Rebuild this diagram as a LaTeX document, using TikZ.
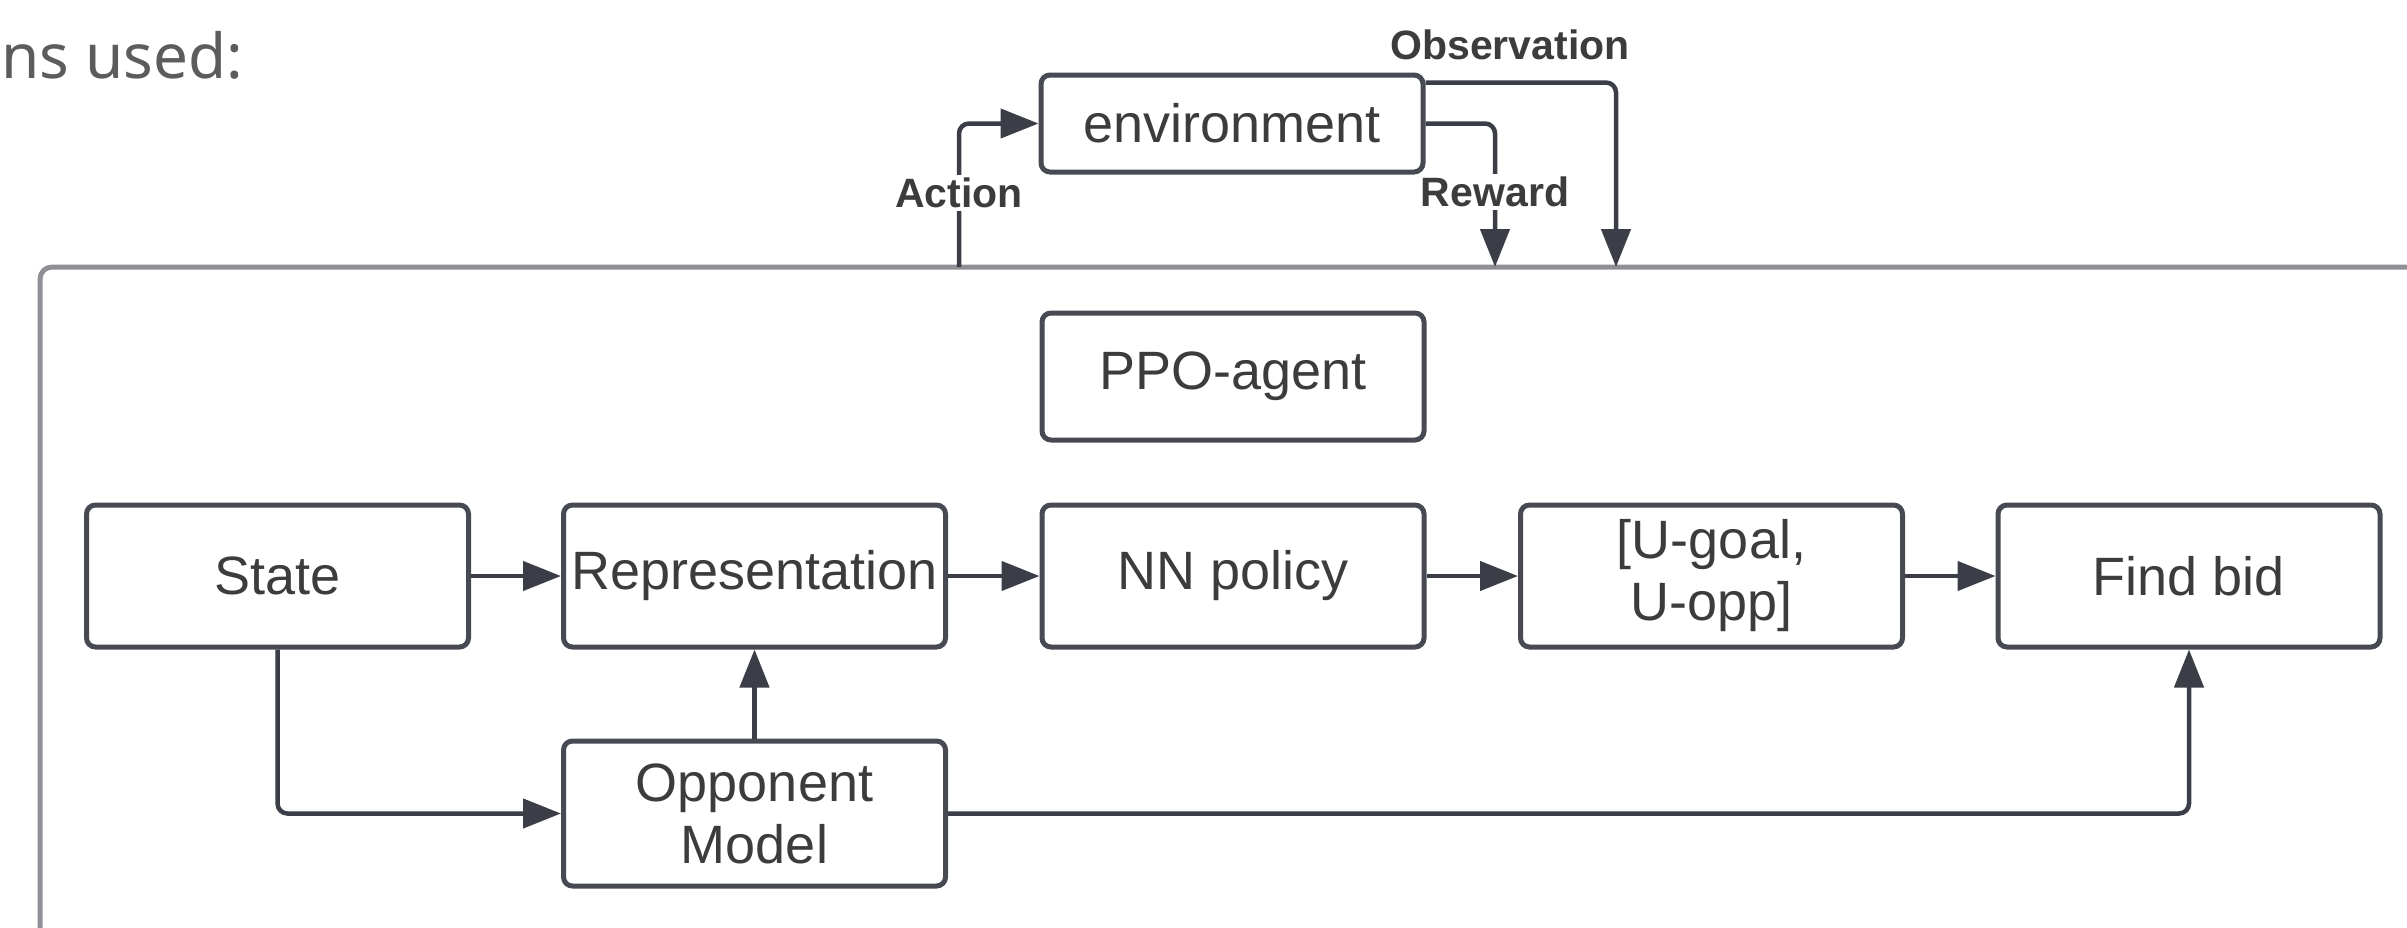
\documentclass[tikz,border=0pt]{standalone}
\usepackage{fontspec}
\setmainfont{Liberation Sans}
\newfontfamily\notofont{Noto Sans}
\usetikzlibrary{arrows.meta}
\definecolor{boxline}{HTML}{474A52}
\definecolor{linec}{HTML}{3B3E46}
\definecolor{outerc}{HTML}{8E9096}
\definecolor{txt}{HTML}{3C3C3C}
\definecolor{graytxt}{HTML}{5C5C5C}
\begin{document}
\begin{tikzpicture}[x=1pt,y=-1pt,
 blk/.style={draw=boxline, line width=5pt, rounded corners=9pt, minimum width=382pt, minimum height=142pt, inner sep=0pt, align=center, text=txt, font=\fontsize{54}{62}\selectfont},
 conn/.style={draw=linec, line width=4.5pt, -{Triangle[length=38pt,width=29pt]}, rounded corners=10pt},
 lbl/.style={font=\bfseries\fontsize{41}{48}\selectfont, text=txt, fill=white, inner sep=3pt}]
\useasboundingbox (0,0) rectangle (2407,927);
\begin{scope}
\clip (0,0) rectangle (2407,927);
\draw[outerc, line width=5pt, rounded corners=12pt] (40,267) rectangle (2480,1000);
\end{scope}
\node[anchor=base west, text=graytxt, font=\notofont\fontsize{62}{70}\selectfont, inner sep=0pt] (cap) at (1,78) {ns used:};
% nodes
\node[blk, minimum height=97pt] (env) at (1232,123.5) {environment};
\node[blk, minimum height=127pt] (ppo) at (1233,376.5) {PPO-agent};
\node[blk] (state) at (277.5,576) {State};
\node[blk] (rep) at (754.5,576) {Representation};
\node[blk] (nn) at (1233,576) {NN policy};
\node[blk] (ug) at (1711.5,576) {[U-goal,\\U-opp]};
\node[blk] (fb) at (2189,576) {Find bid};
\node[blk, minimum height=145pt] (opp) at (754.5,813.5) {Opponent\\Model};
% free ends on the agent frame
\coordinate (actS) at (959,267);
\coordinate (rewE) at (1495,267);
\coordinate (obsE) at (1616,267);
% environment loop
\draw[conn] (actS) |- (env.west);
\node[lbl] (actl) at (959,193) {Action};
\draw[conn] (env.east) -| (rewE);
\node[lbl] (rewl) at (1495,192) {Reward};
\draw[conn] ([yshift=-10pt]env.north east) -| (obsE);
\node[lbl, fill=none] (obsl) at (1510,45) {Observation};
% pipeline
\draw[conn] (state) -- (rep);
\draw[conn] (rep) -- (nn);
\draw[conn] (nn) -- (ug);
\draw[conn] (ug) -- (fb);
\draw[conn] (state.south) |- (opp.west);
\draw[conn] (opp) -- (rep);
\draw[conn] (opp.east) -| (fb.south);
\end{tikzpicture}
\end{document}
